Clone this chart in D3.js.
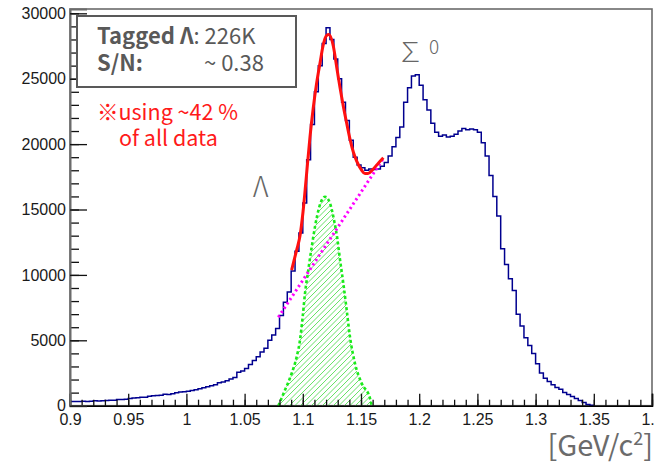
<!DOCTYPE html>
<html>
<head>
<meta charset="utf-8">
<script src="https://cdn.jsdelivr.net/npm/d3@7"></script>
<style>
  body { margin: 0; background: #fff; }
  svg { display: block; }
  .note { font-family: "Noto Sans CJK JP", "Noto Sans", sans-serif; }
</style>
</head>
<body>
<svg width="654" height="462"></svg>
<script>
// histogram: 150 bins from 0.9 to 1.4, counts
const binStart = 0.9;
const binWidth = 1 / 300;
const counts = [
  320, 330, 330, 335, 330, 340, 380, 360, 370, 400,
  410, 420, 480, 470, 500, 560, 590, 600, 640, 650,
  720, 760, 780, 800, 880, 860, 920, 990, 1050, 1060,
  1100, 1160, 1220, 1300, 1380, 1450, 1520, 1600, 1750, 1820,
  1900, 2050, 2150, 2550, 2650, 2850, 3150, 3450, 3750, 4100,
  4400, 5000, 5400, 5900, 6900, 7900, 8700, 10300, 11800, 13200,
  15500, 18800, 21500, 24000, 26000, 27700, 28900, 28000, 26500, 25000,
  23200, 21800, 20300, 19000, 18400, 18200, 18000, 18100, 18050, 18100,
  18300, 18600, 19100, 19800, 20500, 21300, 23200, 24300, 25200, 25300,
  24500, 23400, 22600, 21600, 20900, 20600, 20700, 20550, 20600, 20750,
  21000, 21200, 21100, 21150, 21100, 20900, 20100, 19100, 17600, 16000,
  14500, 12000, 10800, 9700, 8800, 7000, 6100, 5200, 4600, 4000,
  3200, 2500, 2100, 1850, 1600, 1400, 1250, 1000, 850, 700,
  560, 400, 250, 100, 30
];

// fitted total (signal + background)
const fitMass = [1.0904, 1.0947, 1.0976, 1.1002, 1.1028, 1.1062, 1.1090, 1.1119, 1.1148, 1.1176,
  1.1203, 1.1224, 1.1262, 1.1291, 1.1320, 1.1348, 1.1377, 1.1405, 1.1434, 1.1463,
  1.1506, 1.1534, 1.1560, 1.1600, 1.1640, 1.1692];
const fitCounts = [10370, 11900, 12990, 14830, 17270, 20570, 22780, 24680, 26200, 27600,
  28300, 28380, 27500, 25900, 24300, 22900, 21600, 20400, 19400, 18700,
  18000, 17750, 17750, 18050, 18450, 18950];

// signal component (green)
const sigMass = [1.0790, 1.0847, 1.0905, 1.0948, 1.0976, 1.0999, 1.1019, 1.1047, 1.1077, 1.1105,
  1.1142, 1.1191, 1.1234, 1.1268, 1.1296, 1.1320, 1.1348, 1.1377, 1.1405, 1.1448,
  1.1506, 1.1577, 1.1592];
const sigCounts = [0, 1200, 2480, 3750, 5020, 6800, 8590, 10370, 12160, 13690,
  15210, 15980, 15470, 14200, 12800, 11140, 9360, 7320, 5280, 3240,
  1710, 570, 0];

// background component (magenta)
const bgMass = [1.079, 1.1692];
const bgCounts = [6760, 18910];

const xTicks = [0.9, 0.95, 1, 1.05, 1.1, 1.15, 1.2, 1.25, 1.3, 1.35, 1.4];
const yTicks = [0, 5000, 10000, 15000, 20000, 25000, 30000];

const svg = d3.select('svg');

const x = d3.scaleLinear().domain([0.9, 1.4]).range([70, 652]);
const y = d3.scaleLinear().domain([0, 30330]).range([405.7, 9]);

// frame
svg.append('rect')
    .attr('x', 70).attr('y', 9)
    .attr('width', 582).attr('height', 396.7)
    .attr('fill', 'none')
    .attr('stroke', '#6b6b6b')
    .attr('stroke-width', 1.6);

// signal: hatched area clipped to the curve
const sigPts = sigMass.map((m, i) => [m, sigCounts[i]]);
const sigLine = d3.line()
    .x(d => x(d[0]))
    .y(d => y(d[1]))
    .curve(d3.curveMonotoneX);
const sigArea = d3.area()
    .x(d => x(d[0]))
    .y0(y(0))
    .y1(d => y(d[1]))
    .curve(d3.curveMonotoneX);

svg.append('clipPath')
    .attr('id', 'sigClip')
  .append('path')
    .attr('d', sigArea(sigPts));

const hx0 = x(sigMass[0]), hx1 = x(sigMass[sigMass.length - 1]);
const hTop = y(d3.max(sigCounts)), hBot = y(0);
const hH = hBot - hTop;
const hatchG = svg.append('g').attr('clip-path', 'url(#sigClip)');
hatchG.selectAll('line')
  .data(d3.range(hx0 - hH, hx1 + 6, 5.5))
  .join('line')
    .attr('x1', d => d).attr('y1', hBot)
    .attr('x2', d => d + hH).attr('y2', hTop)
    .attr('stroke', '#66e066')
    .attr('stroke-width', 1);

svg.append('path')
    .attr('d', sigLine(sigPts))
    .attr('fill', 'none')
    .attr('stroke', '#1aea1a')
    .attr('stroke-width', 2.6)
    .attr('stroke-dasharray', '3,2.5');

// histogram as steps
const histPts = counts.map((c, i) => [binStart + i * binWidth, c]);
histPts.push([binStart + counts.length * binWidth, 0]);
const stepLine = d3.line()
    .x(d => x(d[0]))
    .y(d => y(d[1]))
    .curve(d3.curveStepAfter);

svg.append('path')
    .attr('d', stepLine(histPts))
    .attr('fill', 'none')
    .attr('stroke', '#00008f')
    .attr('stroke-width', 1.5);

// background
const bgPts = bgMass.map((m, i) => [m, bgCounts[i]]);
svg.append('path')
    .attr('d', d3.line().x(d => x(d[0])).y(d => y(d[1]))(bgPts))
    .attr('fill', 'none')
    .attr('stroke', '#ff00ff')
    .attr('stroke-width', 3)
    .attr('stroke-dasharray', '2.2,3');

// total fit
const fitPts = fitMass.map((m, i) => [m, fitCounts[i]]);
svg.append('path')
    .attr('d', d3.line().x(d => x(d[0])).y(d => y(d[1])).curve(d3.curveMonotoneX)(fitPts))
    .attr('fill', 'none')
    .attr('stroke', '#ff1010')
    .attr('stroke-width', 3);

// axes
const fmt = d => String(+d.toFixed(2));

const xMinor = d3.range(0, 51).map(i => 0.9 + i * 0.01);
const xMinorG = svg.append('g')
    .attr('transform', `translate(0, ${y(0)})`)
    .call(d3.axisBottom(x).tickValues(xMinor).tickSize(-6).tickFormat(''));
xMinorG.select('.domain').remove();

const xAxisG = svg.append('g')
    .attr('transform', `translate(0, ${y(0)})`)
    .call(d3.axisBottom(x).tickValues(xTicks).tickSize(-12).tickPadding(4).tickFormat(fmt));
xAxisG.select('.domain')
    .attr('stroke', '#000')
    .attr('stroke-width', 1.6);
xAxisG.selectAll('.tick text').attr('dy', '0.95em');

const yMinor = d3.range(0, 31).map(i => i * 1000);
const yMinorG = svg.append('g')
    .attr('transform', 'translate(70, 0)')
    .call(d3.axisLeft(y).tickValues(yMinor).tickSize(-9).tickFormat(''));
yMinorG.select('.domain').remove();

const yAxisG = svg.append('g')
    .attr('transform', 'translate(70, 0)')
    .call(d3.axisLeft(y).tickValues(yTicks).tickSize(-17).tickPadding(4).tickFormat(d3.format('d')));
yAxisG.select('.domain')
    .attr('stroke', '#6b6b6b')
    .attr('stroke-width', 2);

svg.selectAll('.tick line').attr('stroke', '#111').attr('stroke-width', 1.3);
svg.selectAll('.tick text')
    .attr('font-family', '"Liberation Sans", Arial, sans-serif')
    .attr('font-size', 16)
    .attr('fill', '#1a1a1a');

// axis title
const title = svg.append('text')
    .attr('class', 'note')
    .attr('x', 653)
    .attr('y', 456)
    .attr('text-anchor', 'end')
    .attr('font-size', 29)
    .attr('fill', '#6b6b6b');
title.append('tspan').text('[GeV/c');
title.append('tspan').attr('font-size', 18).attr('dy', -11).text('2');
title.append('tspan').attr('dy', 11).text(']');

// info box
svg.append('rect')
    .attr('x', 77).attr('y', 16)
    .attr('width', 219).attr('height', 71)
    .attr('fill', '#fff')
    .attr('stroke', '#595959')
    .attr('stroke-width', 2);

const box = svg.append('g')
    .attr('class', 'note')
    .attr('fill', '#595959')
    .attr('font-size', 22);
const l1 = box.append('text').attr('x', 97).attr('y', 44);
l1.append('tspan').attr('font-weight', 'bold').text('Tagged Λ');
l1.append('tspan').text(': 226K');
box.append('text').attr('x', 97).attr('y', 71)
    .attr('font-weight', 'bold').text('S/N:');
box.append('text').attr('x', 204).attr('y', 71).text('~ 0.38');

const note = svg.append('g')
    .attr('class', 'note')
    .attr('fill', '#ff1a1a')
    .attr('font-size', 21.5);
note.append('text').attr('x', 97).attr('y', 120).text('※using ~42 %');
note.append('text').attr('x', 119).attr('y', 146).text('of all data');

// particle labels
svg.append('text')
    .attr('class', 'note')
    .attr('x', 253).attr('y', 197)
    .attr('font-size', 28)
    .attr('font-weight', 300)
    .attr('fill', '#666')
    .text('Λ');

const sig0 = svg.append('text')
    .attr('class', 'note')
    .attr('x', 397).attr('y', 62)
    .attr('fill', '#666')
    .attr('font-size', 27)
    .attr('font-weight', 300)
    .text('∑');
sig0.append('tspan')
    .attr('dx', 5).attr('dy', -8)
    .attr('font-size', 19)
    .text('0');
</script>
</body>
</html>
